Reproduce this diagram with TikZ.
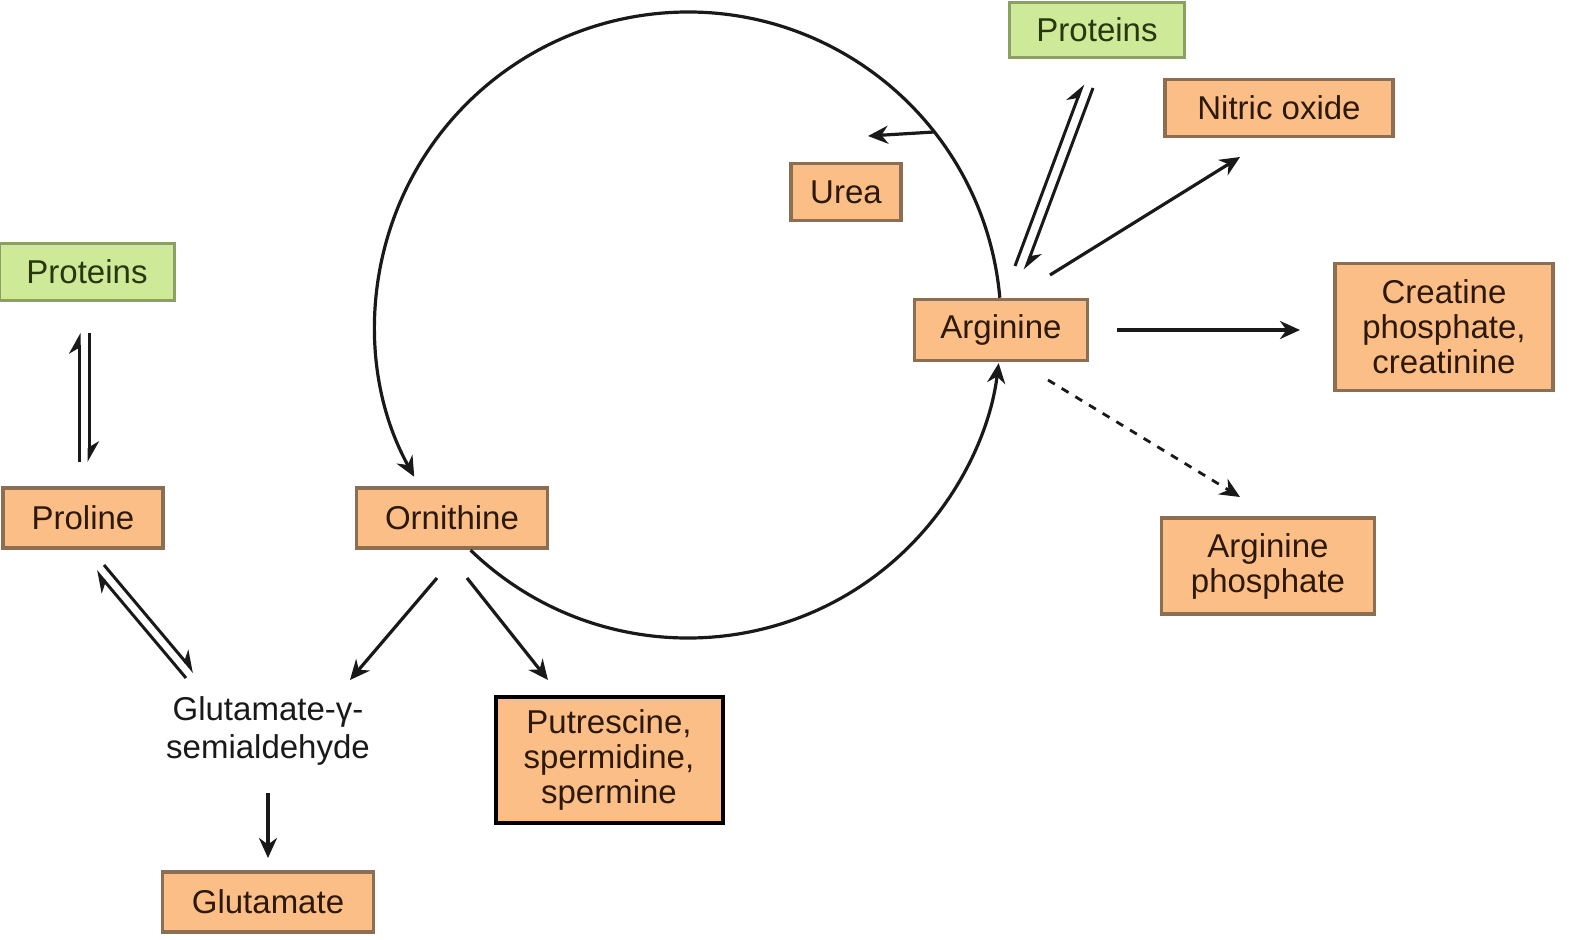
\documentclass[tikz,border=0pt]{standalone}
\usepackage{fontspec}
\setmainfont{Liberation Sans}
\usetikzlibrary{arrows.meta,calc}
\definecolor{boxorange}{RGB}{251,190,135}
\definecolor{boxbrown}{RGB}{140,110,82}
\definecolor{boxgreen}{RGB}{206,234,152}
\definecolor{greenedge}{RGB}{140,160,100}
\definecolor{txtbrown}{RGB}{45,25,10}
\definecolor{txtgreen}{RGB}{40,55,15}
\definecolor{ink}{RGB}{25,25,25}
\begin{document}
\begin{tikzpicture}[x=0.5pt,y=0.5pt,
  lbl/.style={font=\fontsize{16.5}{17.5}\selectfont, align=center, inner sep=0pt},
  obox/.style={lbl, draw=boxbrown, fill=boxorange, line width=1.6pt, text=txtbrown},
  gbox/.style={lbl, draw=greenedge, fill=boxgreen, line width=1.6pt, text=txtgreen},
  kbox/.style={lbl, draw=black, fill=boxorange, line width=2pt, text=txtbrown},
  arr/.style={draw=ink, line width=1.6pt, -{Stealth[length=10pt,width=9pt]}},
  harp/.style={draw=ink, line width=1.5pt, -{Stealth[harpoon,length=9pt,width=10pt]}},
  dasharr/.style={arr, line width=1.4pt, dash pattern=on 4pt off 4pt}]
\useasboundingbox (0,0) rectangle (1569,-939);
% nodes
\node[gbox, minimum width=87.5pt, minimum height=27.5pt] (pt) at (1097,-30) {Proteins};
\node[obox, minimum width=114pt, minimum height=28.5pt] (no) at (1279,-108) {Nitric oxide};
\node[obox, minimum width=55pt, minimum height=28.5pt] (urea) at (846,-192) {Urea};
\node[gbox, minimum width=87.5pt, minimum height=28.5pt] (pl) at (87,-272) {Proteins};
\node[obox, minimum width=86.5pt, minimum height=30.5pt] (arg) at (1001,-330) {Arginine};
\node[obox, minimum width=109pt, minimum height=63.5pt] (cre) at (1444,-327) {Creatine\\phosphate,\\creatinine};
\node[obox, minimum width=106.5pt, minimum height=48pt] (argp) at (1268,-566) {Arginine\\phosphate};
\node[obox, minimum width=80pt, minimum height=30pt] (pro) at (83,-518) {Proline};
\node[obox, minimum width=95.5pt, minimum height=30pt] (orn) at (452,-518) {Ornithine};
\node[lbl, text=ink, font=\fontsize{16.5}{19}\selectfont] (gsa) at (268,-731) {Glutamate-γ-\\semialdehyde};
\node[kbox, minimum width=113.5pt, minimum height=63pt] (put) at (609,-760) {Putrescine,\\spermidine,\\spermine};
\node[obox, minimum width=105.5pt, minimum height=30pt] (glu) at (268,-902) {Glutamate};
% coordinates
\coordinate (cen) at (688,-325);
\coordinate (ureaS) at (934,-132);
\coordinate (ureaE) at (868,-136);
\coordinate (noS) at (1050,-275);
\coordinate (noE) at (1240,-157);
\coordinate (ptA1) at (1015,-266);
\coordinate (ptA2) at (1083,-84);
\coordinate (ptB1) at (1093,-88);
\coordinate (ptB2) at (1025,-270);
\coordinate (plA1) at (79,-462);
\coordinate (plA2) at (79,-333);
\coordinate (plB1) at (89,-333);
\coordinate (plB2) at (89,-462);
\coordinate (prA1) at (186,-678);
\coordinate (prA2) at (96,-571);
\coordinate (prB1) at (104,-565);
\coordinate (prB2) at (194,-672);
\coordinate (ogS) at (437,-578);
\coordinate (ogE) at (350,-680);
\coordinate (opS) at (467,-578);
\coordinate (opE) at (548,-680);
\coordinate (ggS) at (268,-793);
\coordinate (ggE) at (268,-858);
\coordinate (acS) at (1117,-330);
\coordinate (acE) at (1300,-330);
\coordinate (apS) at (1048,-380);
\coordinate (apE) at (1240,-497);
% cycle
\draw[arr] ($(cen)+(5:313)$) arc[start angle=5, end angle=209, radius=313];
\draw[arr] ($(cen)+(226:313)$) arc[start angle=226, end angle=353, radius=313];
\draw[arr] (ureaS) -- (ureaE);
% other arrows
\draw[arr] (noS) -- (noE);
\draw[harp] (ptA1) -- (ptA2);
\draw[harp] (ptB1) -- (ptB2);
\draw[harp] (plA1) -- (plA2);
\draw[harp] (plB1) -- (plB2);
\draw[harp] (prA1) -- (prA2);
\draw[harp] (prB1) -- (prB2);
\draw[arr] (ogS) -- (ogE);
\draw[arr] (opS) -- (opE);
\draw[arr] (ggS) -- (ggE);
\draw[arr] (acS) -- (acE);
\draw[dasharr] (apS) -- (apE);
\end{tikzpicture}
\end{document}
